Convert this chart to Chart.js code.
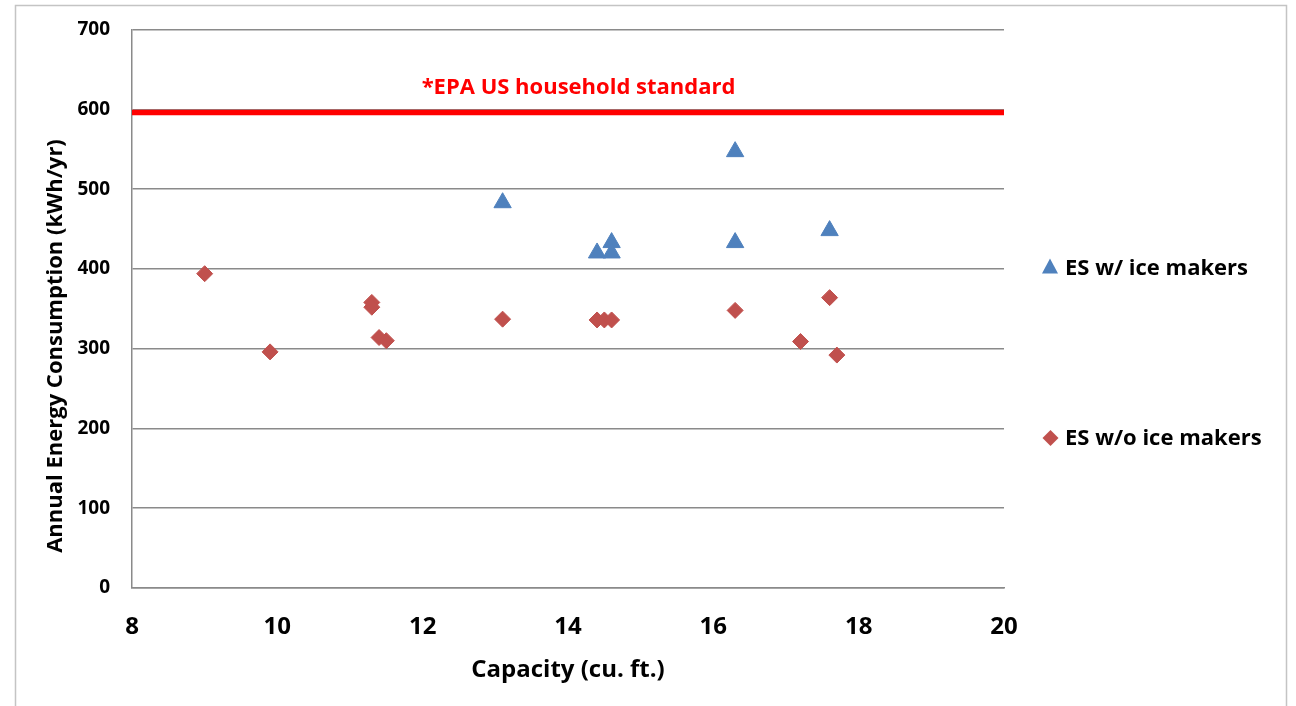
<!DOCTYPE html>
<html>
<head>
<meta charset="utf-8">
<title>Refrigerator energy use vs capacity</title>
<script src="https://cdn.jsdelivr.net/npm/chart.js@4.4.1/dist/chart.umd.min.js"></script>
<style>
  html, body { margin: 0; padding: 0; background: #ffffff; }
  #wrap { position: relative; width: 1296px; height: 706px; }
</style>
</head>
<body>
<div id="wrap"><canvas id="chart" width="1296" height="706"></canvas></div>
<script>
// ENERGY STAR models with ice makers: capacity (cu. ft.) and annual use (kWh/yr)
const capacityWithIce = [13.1, 14.4, 14.6, 14.6, 16.3, 16.3, 17.6];
const kwhWithIce      = [483, 420, 433, 420, 547, 433, 448];

// ENERGY STAR models without ice makers
const capacityNoIce = [9.0, 9.9, 11.3, 11.3, 11.4, 11.5, 13.1, 14.4, 14.5, 14.6, 16.3, 17.2, 17.6, 17.7];
const kwhNoIce      = [394, 296, 358, 352, 314, 310, 337, 336, 336, 336, 348, 309, 364, 292];

// Reference household standard (kWh/yr)
const epaStandard = 596;

// Axis ranges and tick steps
const xTicks = [8, 10, 12, 14, 16, 18, 20];
const yTicks = [0, 100, 200, 300, 400, 500, 600, 700];

const seriesNames = ['ES w/ ice makers', 'ES w/o ice makers'];
const standardLabel = '*EPA US household standard';
const xTitle = 'Capacity (cu. ft.)';
const yTitle = 'Annual Energy Consumption (kWh/yr)';

const FONT = "'Open Sans', 'DejaVu Sans', sans-serif";
const BLUE = '#4F81BD';
const RED = '#C0504D';
const GRID = '#8a8a8a';

const toPoints = (xs, ys) => xs.map((x, i) => ({ x: x, y: ys[i] }));

// Frame, rotated y title, standard label and the side legend
const chartDecor = {
  id: 'chartDecor',
  beforeDraw(chart) {
    const ctx = chart.ctx;
    ctx.save();
    ctx.strokeStyle = '#c4c4c4';
    ctx.lineWidth = 1.5;
    ctx.beginPath();
    ctx.moveTo(15.5, 720);
    ctx.lineTo(15.5, 5.5);
    ctx.lineTo(1286.5, 5.5);
    ctx.lineTo(1286.5, 720);
    ctx.stroke();
    ctx.restore();
  },
  afterDraw(chart) {
    const ctx = chart.ctx;
    const yScale = chart.scales.y;

    // y axis title
    ctx.save();
    ctx.translate(62, 346);
    ctx.rotate(-Math.PI / 2);
    ctx.font = 'bold 22px ' + FONT;
    ctx.fillStyle = '#000000';
    ctx.textAlign = 'center';
    ctx.textBaseline = 'alphabetic';
    ctx.fillText(yTitle, 0, 0);
    ctx.restore();

    // label above the standard line
    ctx.save();
    ctx.font = 'bold 22px ' + FONT;
    ctx.fillStyle = '#FF0000';
    ctx.textAlign = 'center';
    ctx.textBaseline = 'alphabetic';
    ctx.fillText(standardLabel, 578.5, yScale.getPixelForValue(epaStandard) - 19);
    ctx.restore();

    // legend
    ctx.save();
    ctx.fillStyle = BLUE;
    ctx.beginPath();
    ctx.moveTo(1050, 258.5);
    ctx.lineTo(1058, 273.5);
    ctx.lineTo(1042, 273.5);
    ctx.closePath();
    ctx.fill();

    ctx.fillStyle = RED;
    ctx.beginPath();
    ctx.moveTo(1050.5, 430);
    ctx.lineTo(1058.5, 438);
    ctx.lineTo(1050.5, 446);
    ctx.lineTo(1042.5, 438);
    ctx.closePath();
    ctx.fill();

    ctx.font = 'bold 22px ' + FONT;
    ctx.fillStyle = '#000000';
    ctx.textAlign = 'left';
    ctx.textBaseline = 'alphabetic';
    ctx.fillText(seriesNames[0], 1065, 274.5);
    ctx.fillText(seriesNames[1], 1065, 445);
    ctx.restore();
  }
};

new Chart(document.getElementById('chart'), {
  type: 'scatter',
  data: {
    datasets: [
      {
        label: standardLabel,
        data: [{ x: xTicks[0], y: epaStandard }, { x: xTicks[xTicks.length - 1], y: epaStandard }],
        showLine: true,
        borderColor: '#FF0000',
        borderWidth: 5.5,
        pointRadius: 0,
        order: 3
      },
      {
        label: seriesNames[0],
        data: toPoints(capacityWithIce, kwhWithIce),
        pointStyle: 'triangle',
        pointRadius: 10,
        backgroundColor: BLUE,
        borderColor: BLUE,
        borderWidth: 1,
        order: 2
      },
      {
        label: seriesNames[1],
        data: toPoints(capacityNoIce, kwhNoIce),
        pointStyle: 'rectRot',
        pointRadius: 8,
        backgroundColor: RED,
        borderColor: RED,
        borderWidth: 1,
        order: 1
      }
    ]
  },
  options: {
    responsive: false,
    animation: false,
    devicePixelRatio: 1,
    layout: { padding: { left: 0, right: 292, top: 29.6, bottom: 0 } },
    plugins: {
      legend: { display: false },
      tooltip: { enabled: false }
    },
    scales: {
      x: {
        type: 'linear',
        min: xTicks[0],
        max: xTicks[xTicks.length - 1],
        afterBuildTicks(scale) { scale.ticks = xTicks.map(v => ({ value: v })); },
        afterFit(scale) {
          scale.height = 118;
          scale.paddingLeft = 0;
          scale.paddingRight = 0;
        },
        ticks: {
          padding: 25,
          color: '#000000',
          font: { family: FONT, size: 24, weight: 'bold' }
        },
        grid: { display: false, drawTicks: false },
        border: { display: true, color: GRID, width: 1.5 },
        title: {
          display: true,
          text: xTitle,
          color: '#000000',
          font: { family: FONT, size: 24, weight: 'bold' },
          padding: { top: 0, bottom: 21 }
        }
      },
      y: {
        type: 'linear',
        min: yTicks[0],
        max: yTicks[yTicks.length - 1],
        afterBuildTicks(scale) { scale.ticks = yTicks.map(v => ({ value: v })); },
        afterFit(scale) {
          scale.width = 132;
          scale.paddingTop = 0;
          scale.paddingBottom = 0;
        },
        ticks: {
          padding: 22,
          color: '#000000',
          font: { family: FONT, size: 19, weight: 'bold' }
        },
        grid: { color: GRID, lineWidth: 1.5, drawTicks: false },
        border: { display: true, color: GRID, width: 1.5 }
      }
    }
  },
  plugins: [chartDecor]
});
</script>
</body>
</html>
